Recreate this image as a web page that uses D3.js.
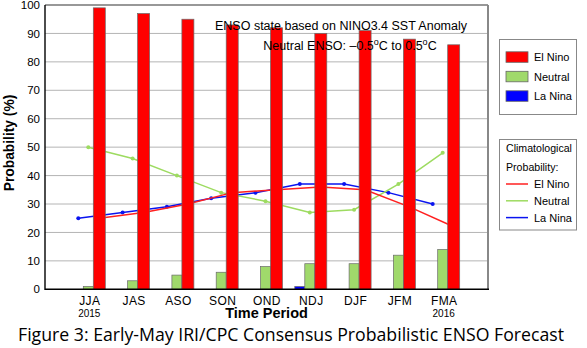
<!DOCTYPE html>
<html>
<head>
<meta charset="utf-8">
<script src="https://cdn.jsdelivr.net/npm/d3@7"></script>
<style>
html,body{margin:0;padding:0;background:#fff;}
svg{display:block;font-family:"Liberation Sans",Arial,sans-serif;}
</style>
</head>
<body>
<svg id="chart" width="587" height="348"></svg>
<script>
const categories = ["JJA","JAS","ASO","SON","OND","NDJ","DJF","JFM","FMA"];
const yearLabels = ["2015","","","","","","","","2016"];
const elNino = [99,97,95,93,92,90,91,88,86];
const neutral = [1,3,5,6,8,9,9,12,14];
const laNina = [0,0,0,0,0,1,0,0,0];
const climElNino = [25,27,30,34,35,36,35,29,22];
const climNeutral = [50,46,40,34,31,27,28,37,48];
const climLaNina = [25,27,29,32,34,37,37,34,30];
const yTicks = [0,10,20,30,40,50,60,70,80,90,100];
const legendBars = ["El Nino","Neutral","La Nina"];

const colors = {el:"#ff0000", neu:"#a0d96b", la:"#0000ff"};
const lineColors = {el:"#ff2020", neu:"#9ddb60", la:"#0a14f0"};

const svg = d3.select("#chart");
const L = 45, R = 488, T = 5, B = 289.3;

const x = d3.scalePoint().domain(categories).range([L, R]).padding(1);
const y = d3.scaleLinear().domain([0,100]).range([B, T]);

// grid
svg.append("g").selectAll("line").data(yTicks.filter(d=>d>0 && d<100)).join("line")
  .attr("x1", L).attr("x2", R).attr("y1", d=>y(d)).attr("y2", d=>y(d))
  .attr("stroke", "#b4b4b4").attr("stroke-width", 1);

// y axis tick labels
const yAxis = d3.axisLeft(y).tickValues(yTicks).tickSize(0).tickPadding(5);
const gy = svg.append("g").attr("transform", `translate(${L},0)`).call(yAxis);
gy.select(".domain").remove();
gy.selectAll("text").attr("font-size", "11.5px").attr("fill", "#000")
  .attr("font-family", "Liberation Sans, Arial, sans-serif");

// climatological lines (drawn beneath bars)
const series = [
  {vals: climLaNina, off: -11, color: lineColors.la},
  {vals: climNeutral, off: -1, color: lineColors.neu},
  {vals: climElNino, off: 10, color: lineColors.el}
];
series.forEach(s => {
  const line = d3.line().x((d,i)=>x(categories[i]) + s.off).y(d=>y(d));
  svg.append("path").datum(s.vals).attr("d", line)
    .attr("fill", "none").attr("stroke", s.color).attr("stroke-width", 1.5);
  svg.append("g").selectAll("circle").data(s.vals).join("circle")
    .attr("cx", (d,i)=>x(categories[i]) + s.off).attr("cy", d=>y(d))
    .attr("r", 2).attr("fill", s.color);
});

// bars
const barDefs = [
  {vals: laNina, off: -16, w: 10, color: colors.la},
  {vals: neutral, off: -6, w: 10, color: colors.neu},
  {vals: elNino, off: 4, w: 12, color: colors.el}
];
barDefs.forEach(b => {
  const data = b.vals.map((v,i)=>({v, c: categories[i]})).filter(d=>d.v>0);
  svg.append("g").selectAll("rect").data(data).join("rect")
    .attr("x", d=>x(d.c) + b.off)
    .attr("y", d=>y(d.v))
    .attr("width", b.w)
    .attr("height", d=>B - y(d.v))
    .attr("fill", b.color)
    .attr("stroke", "#6a6a6a").attr("stroke-width", 0.7);
});

// frame
svg.append("line").attr("x1", L).attr("x2", R).attr("y1", T).attr("y2", T).attr("stroke", "#333").attr("stroke-width", 1.2);
svg.append("line").attr("x1", R).attr("x2", R).attr("y1", T).attr("y2", B).attr("stroke", "#888").attr("stroke-width", 2);
svg.append("line").attr("x1", L).attr("x2", L).attr("y1", T).attr("y2", B+0.7).attr("stroke", "#000").attr("stroke-width", 1.4);
svg.append("line").attr("x1", L).attr("x2", R+1).attr("y1", B).attr("y2", B).attr("stroke", "#000").attr("stroke-width", 1.4);

// x labels
const xAxis = d3.axisBottom(x).tickSize(0).tickPadding(7);
const gx = svg.append("g").attr("transform", `translate(0,${B})`).call(xAxis);
gx.select(".domain").remove();
gx.selectAll("text").attr("font-size", "12px").attr("fill", "#000")
  .attr("font-family", "Liberation Sans, Arial, sans-serif").attr("letter-spacing", "0.4px");

svg.append("g").selectAll("text").data(categories.map((c,i)=>({c, t: yearLabels[i]})).filter(d=>d.t))
  .join("text").attr("x", d=>x(d.c)).attr("y", 317).attr("text-anchor", "middle")
  .attr("font-size", "10px").text(d=>d.t);

// axis titles
svg.append("text").attr("x", (L+R)/2).attr("y", 318.2).attr("text-anchor", "middle")
  .attr("font-size", "14.5px").attr("font-weight", "bold").text("Time Period");
svg.append("text").attr("transform", "translate(13.5,143) rotate(-90)").attr("text-anchor", "middle")
  .attr("font-size", "13.8px").attr("font-weight", "bold").text("Probability (%)");

// annotation
svg.append("text").attr("x", 341).attr("y", 29.5).attr("text-anchor", "middle")
  .attr("font-size", "12.5px").text("ENSO state based on NINO3.4 SST Anomaly");
const t2 = svg.append("text").attr("x", 350).attr("y", 49.5).attr("text-anchor", "middle").attr("font-size", "12.5px");
t2.append("tspan").text("Neutral ENSO: \u20130.5");
t2.append("tspan").attr("dy", -5).attr("font-size", "9px").text("o");
t2.append("tspan").attr("dy", 5).text("C to 0.5");
t2.append("tspan").attr("dy", -5).attr("font-size", "9px").text("o");
t2.append("tspan").attr("dy", 5).text("C");

// legend 1
svg.append("rect").attr("x", 499.5).attr("y", 39.5).attr("width", 77).attr("height", 75)
  .attr("fill", "#fff").attr("stroke", "#888").attr("stroke-width", 1);
const legCols = [colors.el, colors.neu, colors.la];
const lg1 = svg.append("g").selectAll("g").data(legendBars).join("g")
  .attr("transform", (d,i)=>`translate(506,${57 + i*19.5})`);
lg1.append("rect").attr("x", 0).attr("y", -5.2).attr("width", 22).attr("height", 10.5)
  .attr("fill", (d,i)=>legCols[i]).attr("stroke", "#666").attr("stroke-width", 0.8);
lg1.append("text").attr("x", 28).attr("y", 4).attr("font-size", "11px").text(d=>d);

// legend 2
svg.append("rect").attr("x", 499.5).attr("y", 139.5).attr("width", 77).attr("height", 90.5)
  .attr("fill", "#fff").attr("stroke", "#888").attr("stroke-width", 1);
svg.append("text").attr("x", 506).attr("y", 152).attr("font-size", "10.6px").text("Climatological");
svg.append("text").attr("x", 506).attr("y", 170.5).attr("font-size", "10.6px").text("Probability:");
const lineCols = [lineColors.el, lineColors.neu, lineColors.la];
const lg2 = svg.append("g").selectAll("g").data(legendBars).join("g")
  .attr("transform", (d,i)=>`translate(506,${184 + i*16.8})`);
lg2.append("line").attr("x1", 0).attr("x2", 22).attr("y1", 0).attr("y2", 0)
  .attr("stroke", (d,i)=>lineCols[i]).attr("stroke-width", 1.5);
lg2.append("text").attr("x", 28).attr("y", 4).attr("font-size", "11px").text(d=>d);

// caption
svg.append("text").attr("x", 291).attr("y", 340.5).attr("text-anchor", "middle")
  .attr("font-family", "Open Sans, sans-serif").attr("font-size", "17.5px")
  .attr("textLength", 546).attr("lengthAdjust", "spacingAndGlyphs")
  .text("Figure 3: Early-May IRI/CPC Consensus Probabilistic ENSO Forecast");
</script>
</body>
</html>
